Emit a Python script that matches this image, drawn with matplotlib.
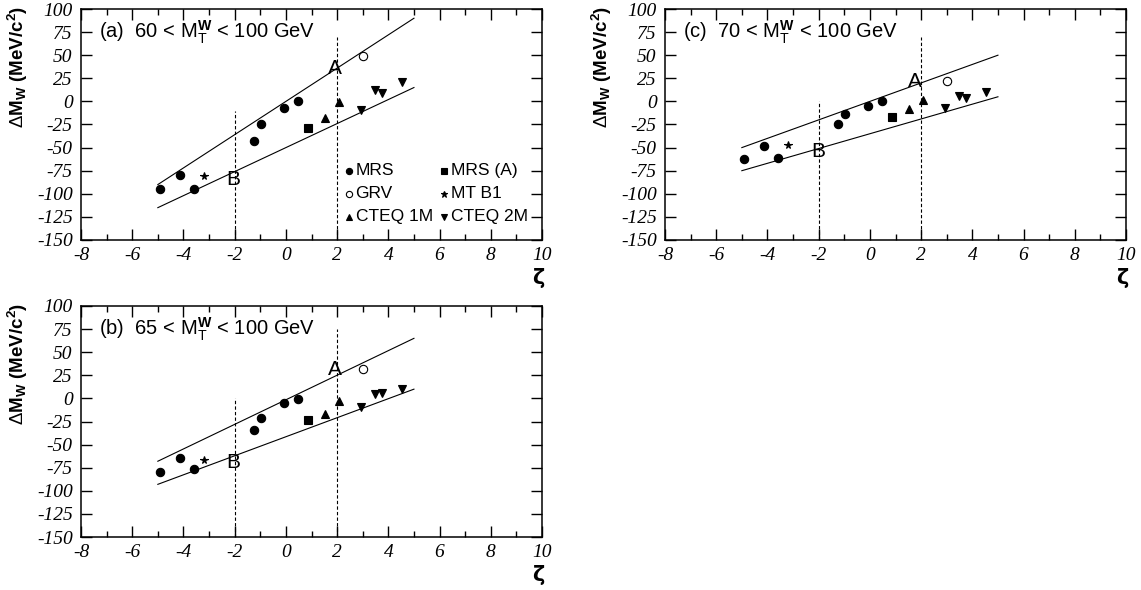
import numpy as np
import matplotlib
matplotlib.use("Agg")
import matplotlib.pyplot as plt
from matplotlib import font_manager
from matplotlib.ticker import MultipleLocator

plt.rcParams["font.family"] = ["Liberation Sans", "DejaVu Sans"]
plt.rcParams["mathtext.fontset"] = "custom"
plt.rcParams["mathtext.rm"] = "Liberation Sans"
plt.rcParams["mathtext.bf"] = "Liberation Sans:bold"
plt.rcParams["mathtext.it"] = "Liberation Sans:italic"
plt.rcParams["axes.unicode_minus"] = False

# zeta values of the PDF sets (same in every panel)
zeta_mrs = [-4.92, -4.12, -3.59, -1.24, -0.96, -0.06, 0.49]
zeta_mrsa = [0.85]
zeta_grv = [3.03]
zeta_mtb1 = [-3.21]
zeta_cteq1m = [1.51, 2.08]
zeta_cteq2m = [2.93, 3.49, 3.75, 4.55]

# Delta M_W (MeV/c^2) per panel
dmw_a = dict(mrs=[-94.6, -80, -94.3, -43, -25, -7, 0], mrsa=[-28.6], grv=[49],
             mtb1=[-81], cteq1m=[-17.8, -0.4], cteq2m=[-9.4, 12.3, 8.7, 20.7])
dmw_b = dict(mrs=[-79.6, -64.4, -76.3, -33.7, -20.7, -5.5, -0.4], mrsa=[-23.6], grv=[32.1],
             mtb1=[-66.2], cteq1m=[-17.4, -3.3], cteq2m=[-9.5, 4.3, 6.1, 10.4])
dmw_c = dict(mrs=[-62.3, -47.8, -61.2, -24.3, -14.1, -5.4, 0.4], mrsa=[-16.7], grv=[22.1],
             mtb1=[-46.7], cteq1m=[-8.7, 1.4], cteq2m=[-6.9, 5.8, 4.0, 10.1])

# band lines: (zeta ends, upper y ends, lower y ends)
band_x = [-5, 5]
upper_a, lower_a = [-90, 90], [-115, 15]
upper_b, lower_b = [-68, 65], [-93, 10]
upper_c, lower_c = [-50, 50], [-75, 5]

# dashed cut lines: start of the dashed line at zeta=-2 and zeta=+2
dash_a = [-10, 70]
dash_b = [0, 75]
dash_c = [0, 70]

# A / B label positions
lab_a = [(1.92, 36), (-2.04, -84)]
lab_b = [(1.92, 31), (-2.04, -69)]
lab_c = [(1.77, 22), (-2.03, -54)]

titles = {"a": "60", "b": "65", "c": "70"}

xticks = np.arange(-8, 11, 2)
yticks = np.arange(-150, 101, 25)

series = [
    ("mrs", zeta_mrs, "o", "k", "MRS", 6),
    ("mrsa", zeta_mrsa, "s", "k", "MRS (A)", 5.5),
    ("grv", zeta_grv, "o", "none", "GRV", 6),
    ("mtb1", zeta_mtb1, "*", "k", "MT B1", 5.5),
    ("cteq1m", zeta_cteq1m, "^", "k", "CTEQ 1M", 5.5),
    ("cteq2m", zeta_cteq2m, "v", "k", "CTEQ 2M", 5.5),
]

# pick a serif family that really has an italic face installed
italic_serif = None
for fam in ["Liberation Serif", "Nimbus Roman", "Times New Roman", "DejaVu Serif"]:
    for f in font_manager.fontManager.ttflist:
        if f.name == fam and f.style == "italic" and f.weight in (400, "normal", "regular"):
            italic_serif = f.fname
            break
    if italic_serif:
        break
if italic_serif:
    tick_font = font_manager.FontProperties(fname=italic_serif, size=14)
else:
    tick_font = font_manager.FontProperties(family="serif", style="italic", size=14)

fig = plt.figure(figsize=(11.41, 5.90), dpi=100)

w = 461 / 1141
h = 231 / 590
ax_a = fig.add_axes([81 / 1141, 1 - 240 / 590, w, h])
ax_c = fig.add_axes([665 / 1141, 1 - 240 / 590, w, h])
ax_b = fig.add_axes([81 / 1141, 1 - 537 / 590, w, h])


def draw_panel(ax, key, dmw, upper, lower, dash, labs, legend=False):
    ax.plot(band_x, upper, color="k", lw=0.8)
    ax.plot(band_x, lower, color="k", lw=0.8)
    ax.plot([-2, -2], [-150, dash[0]], color="k", lw=0.8, ls=(0, (3, 2)))
    ax.plot([2, 2], [-150, dash[1]], color="k", lw=0.8, ls=(0, (3, 2)))
    for name, zx, m, fc, lab, ms in series:
        ax.plot(zx, dmw[name], ls="none", marker=m, ms=ms, mfc=fc, mec="k", mew=0.8)
    ax.text(labs[0][0], labs[0][1], "A", fontsize=15, ha="center", va="center")
    ax.text(labs[1][0], labs[1][1], "B", fontsize=15, ha="center", va="center")
    ax.text(-7.3, 75, "(" + key + ")  " + titles[key] + r" < M$_\mathregular{T}^\mathbf{W}$ < 100 GeV",
            fontsize=14.5, ha="left", va="center")

    if legend:
        lx = [2.47, 6.18]
        ly = [-75, -100, -125]
        for i, (name, zx, m, fc, lab, ms) in enumerate(series):
            x = lx[i % 2]
            y = ly[i // 2]
            ax.plot([x], [y], ls="none", marker=m, ms=ms - 1.5 if m != "*" else 4.5,
                    mfc=fc, mec="k", mew=0.8)
            ax.text(x + 0.25, y, lab, fontsize=12.5, ha="left", va="center")

    ax.set_xlim(-8, 10)
    ax.set_ylim(-150, 100)
    ax.set_xticks(xticks)
    ax.set_xticklabels([str(v) for v in xticks], fontproperties=tick_font)
    ax.set_yticks(yticks)
    ax.set_yticklabels([str(v) for v in yticks], fontproperties=tick_font)
    ax.xaxis.set_minor_locator(MultipleLocator(1))
    ax.tick_params(which="both", direction="in", top=True, right=True, width=1)
    ax.tick_params(which="major", length=8)
    ax.tick_params(which="minor", length=4)
    ax.tick_params(axis="x", pad=5)
    ax.tick_params(axis="y", pad=6)
    for sp in ax.spines.values():
        sp.set_linewidth(1.1)
    ax.text(-0.137, 0.75, r"$\Delta$M$_\mathbf{W}$ (MeV/c$^\mathbf{2}$)", transform=ax.transAxes,
            rotation=90, fontsize=13.5, fontweight="bold", ha="center", va="center")
    ax.text(0.991, -0.165, "ζ", transform=ax.transAxes, fontsize=15,
            fontfamily="DejaVu Sans", fontweight="bold", ha="center", va="center")


draw_panel(ax_a, "a", dmw_a, upper_a, lower_a, dash_a, lab_a, legend=True)
draw_panel(ax_b, "b", dmw_b, upper_b, lower_b, dash_b, lab_b)
draw_panel(ax_c, "c", dmw_c, upper_c, lower_c, dash_c, lab_c)

fig.savefig("out.png", dpi=100)
